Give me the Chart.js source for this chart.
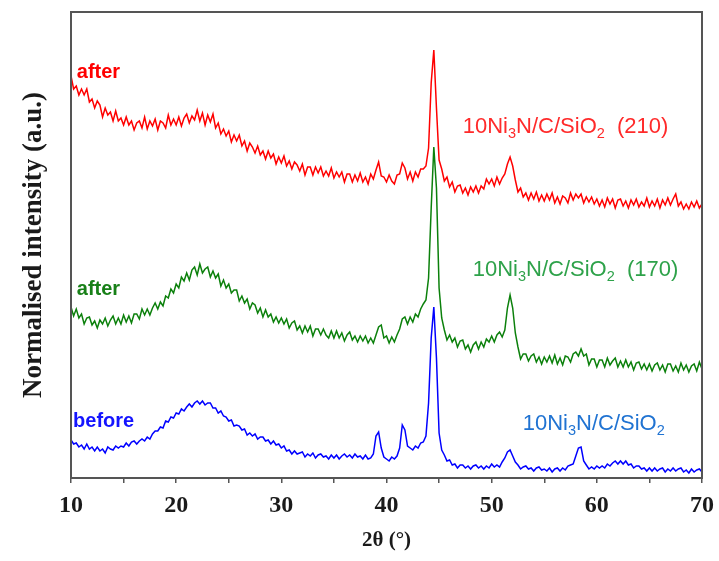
<!DOCTYPE html>
<html>
<head>
<meta charset="utf-8">
<script src="https://cdn.jsdelivr.net/npm/chart.js@4.4.1/dist/chart.umd.min.js"></script>
<style>
  body { margin: 0; background: #fff; }
  #xrd { display: block; }
</style>
</head>
<body>
<canvas id="xrd" width="719" height="561"></canvas>
<script>
// 2-theta scan: 10 to 70 degrees, one reading every 0.25 degree
const thetaStart = 10;
const thetaStep = 0.25;

// normalised intensity (a.u.), patterns stacked with their offsets
const after210 = [
    402, 389, 392, 383, 389, 383, 389, 376, 379, 370, 377, 373, 361, 370, 363, 366, 357, 367, 357, 360,
    353, 361, 353, 357, 348, 355, 357, 350, 361, 349, 357, 352, 359, 348, 357, 355, 350, 363, 353, 359,
    353, 361, 352, 360, 364, 355, 362, 358, 368, 357, 365, 353, 363, 356, 364, 350, 355, 344, 349, 342,
    347, 336, 343, 337, 343, 332, 337, 327, 335, 331, 325, 332, 323, 327, 319, 327, 320, 324, 314, 321,
    315, 322, 312, 317, 309, 316, 313, 307, 314, 303, 311, 311, 303, 311, 305, 311, 302, 307, 302, 310,
    300, 306, 301, 306, 296, 304, 304, 296, 303, 297, 305, 296, 301, 294, 304, 299, 308, 316, 302, 301,
    296, 303, 297, 294, 303, 304, 315, 310, 299, 306, 297, 306, 301, 309, 309, 312, 330, 395, 428, 370,
    318, 309, 297, 301, 291, 296, 286, 292, 293, 285, 290, 283, 291, 286, 292, 285, 292, 289, 299, 294,
    299, 292, 301, 294, 300, 304, 314, 321, 312, 298, 286, 290, 281, 285, 278, 285, 279, 286, 277, 283,
    277, 284, 278, 285, 275, 281, 274, 282, 280, 275, 285, 278, 284, 280, 284, 275, 281, 276, 281, 274,
    279, 272, 278, 271, 280, 274, 279, 270, 278, 279, 272, 277, 270, 278, 273, 279, 271, 276, 272, 280,
    271, 277, 272, 279, 270, 278, 273, 280, 273, 279, 284, 272, 276, 269, 274, 269, 276, 271, 277, 270, 274
];

const after170 = [
    171, 162, 169, 160, 164, 154, 160, 161, 153, 157, 150, 158, 154, 160, 152, 158, 162, 154, 160, 154,
    163, 156, 162, 155, 164, 164, 159, 169, 163, 169, 163, 170, 175, 169, 176, 172, 182, 180, 189, 185,
    194, 190, 201, 197, 205, 198, 208, 211, 203, 214, 205, 209, 211, 201, 207, 200, 204, 192, 198, 190,
    194, 185, 188, 188, 177, 182, 175, 179, 169, 175, 173, 165, 170, 161, 168, 161, 164, 156, 161, 155,
    160, 154, 159, 150, 155, 157, 148, 152, 145, 152, 146, 152, 142, 149, 149, 143, 149, 143, 140, 147,
    140, 147, 140, 145, 137, 143, 146, 138, 142, 136, 142, 137, 142, 135, 140, 135, 143, 151, 153, 140,
    142, 135, 141, 136, 143, 149, 159, 161, 154, 161, 156, 164, 161, 169, 174, 178, 200, 270, 331, 290,
    190, 160, 148, 138, 143, 136, 140, 131, 137, 138, 129, 133, 126, 133, 136, 129, 136, 131, 139, 136,
    142, 136, 143, 146, 141, 148, 170, 183, 170, 145, 131, 119, 124, 124, 117, 122, 124, 116, 121, 114,
    121, 116, 122, 115, 123, 114, 120, 113, 122, 121, 116, 124, 126, 122, 129, 122, 124, 113, 119, 119,
    111, 118, 118, 111, 120, 113, 117, 120, 111, 117, 111, 118, 111, 116, 108, 115, 116, 109, 114, 108,
    114, 107, 113, 115, 108, 113, 106, 114, 114, 107, 112, 106, 115, 108, 113, 106, 112, 114, 107, 116, 109
];

const before = [
    38, 34, 35, 31, 33, 29, 34, 29, 31, 27, 31, 27, 29, 25, 31, 29, 28, 32, 30, 32,
    31, 35, 32, 36, 37, 34, 37, 39, 37, 41, 39, 44, 47, 47, 51, 50, 57, 56, 61, 60,
    65, 64, 69, 67, 71, 74, 71, 75, 77, 74, 77, 73, 75, 75, 70, 70, 65, 67, 62, 61,
    57, 58, 52, 53, 52, 48, 49, 43, 45, 42, 44, 39, 41, 41, 37, 38, 34, 37, 33, 34,
    30, 32, 27, 28, 24, 27, 24, 25, 26, 21, 24, 22, 25, 20, 23, 24, 21, 22, 19, 23,
    20, 23, 19, 22, 24, 21, 23, 20, 24, 21, 22, 19, 23, 19, 20, 24, 42, 46, 30, 21,
    19, 17, 21, 19, 22, 30, 53, 48, 32, 30, 28, 32, 30, 35, 36, 42, 75, 140, 171, 120,
    45, 28, 23, 17, 18, 13, 14, 10, 13, 13, 10, 12, 9, 12, 13, 10, 12, 9, 12, 10,
    14, 11, 13, 11, 16, 20, 26, 28, 22, 16, 13, 9, 11, 12, 9, 10, 7, 10, 11, 8,
    9, 7, 10, 6, 9, 10, 7, 10, 8, 12, 13, 14, 22, 30, 31, 17, 13, 9, 11, 9,
    12, 10, 12, 10, 14, 12, 15, 17, 14, 17, 14, 17, 13, 14, 10, 12, 12, 9, 10, 7,
    10, 7, 10, 7, 9, 10, 6, 9, 7, 10, 7, 9, 10, 6, 8, 5, 9, 6, 8, 9, 6
];

const xTickLabels = ['10', '20', '30', '40', '50', '60', '70'];

// "_" marks a subscript piece
const name210 = ['10Ni', '_3', 'N/C/SiO', '_2', '  (210)'];
const name170 = ['10Ni', '_3', 'N/C/SiO', '_2', '  (170)'];
const nameFresh = ['10Ni', '_3', 'N/C/SiO', '_2'];

function toPoints(values) {
    return values.map((v, i) => ({ x: thetaStart + i * thetaStep, y: v }));
}

let serif = '"Liberation Serif", "Times New Roman", serif';
let sans = '"Liberation Sans", Arial, sans-serif';

// labels drawn next to each pattern, placed in data coordinates
let sampleLabels = [
    { parts: ['after'], at: [10.55, 406], color: '#ff0000', font: 'bold 20px ' + sans },
    { parts: ['after'], at: [10.55, 189], color: '#188018', font: 'bold 20px ' + sans },
    { parts: ['before'], at: [10.2, 57], color: '#1414ff', font: 'bold 20px ' + sans },
    { parts: name210, at: [47.25, 351], color: '#ff2a2a', size: 22 },
    { parts: name170, at: [48.2, 208], color: '#2ea24a', size: 22 },
    { parts: nameFresh, at: [52.95, 54], color: '#2073d2', size: 22 }
];

let labelsAndFrame = {
    id: 'labelsAndFrame',
    afterDatasetsDraw: function(chart) {
        let ctx = chart.ctx;
        let xScale = chart.scales.x;
        let yScale = chart.scales.y;
        ctx.save();
        ctx.textBaseline = 'middle';
        ctx.textAlign = 'left';
        sampleLabels.forEach(function(lab) {
            let px = xScale.getPixelForValue(lab.at[0]);
            let py = yScale.getPixelForValue(lab.at[1]);
            ctx.fillStyle = lab.color;
            lab.parts.forEach(function(part) {
                let isSub = part.charAt(0) === '_';
                let text = isSub ? part.slice(1) : part;
                if (lab.font) {
                    ctx.font = lab.font;
                } else {
                    let size = isSub ? lab.size * 0.66 : lab.size;
                    ctx.font = size + 'px ' + sans;
                }
                ctx.fillText(text, px, isSub ? py + lab.size * 0.3 : py);
                px += ctx.measureText(text).width;
            });
        });
        ctx.restore();
    },
    afterDraw: function(chart) {
        let a = chart.chartArea;
        let ctx = chart.ctx;
        ctx.save();
        ctx.strokeStyle = '#555555';
        ctx.lineWidth = 2;
        ctx.strokeRect(a.left, a.top, a.right - a.left, a.bottom - a.top);
        ctx.restore();
    }
};

let data = {
    datasets: [
        { label: 'after (210)', data: toPoints(after210), borderColor: '#ff0000' },
        { label: 'after (170)', data: toPoints(after170), borderColor: '#0b800b' },
        { label: 'before', data: toPoints(before), borderColor: '#0000ff' }
    ]
};

let config = {
    type: 'line',
    data: data,
    options: {
        responsive: false,
        animation: false,
        devicePixelRatio: 1,
        layout: { padding: { top: 12, right: 17, left: 0, bottom: 0 } },
        elements: {
            line: { borderWidth: 1.5, tension: 0 },
            point: { radius: 0 }
        },
        plugins: {
            legend: { display: false },
            tooltip: { enabled: false }
        },
        scales: {
            x: {
                type: 'linear',
                min: 10,
                max: 70,
                afterFit: function(axis) {
                    axis.height = 83;
                    axis.paddingLeft = 0;
                    axis.paddingRight = 0;
                },
                ticks: {
                    stepSize: 5,
                    padding: 8,
                    color: '#1a1a1a',
                    font: { family: serif, size: 24, weight: 'bold' },
                    callback: function(value) {
                        let label = String(value);
                        return xTickLabels.indexOf(label) >= 0 ? label : '';
                    }
                },
                grid: {
                    drawOnChartArea: false,
                    drawTicks: true,
                    tickLength: 5,
                    color: '#555555',
                    lineWidth: 1.5
                },
                border: { display: false },
                title: {
                    display: true,
                    text: '2θ (°)',
                    color: '#1a1a1a',
                    font: { family: serif, size: 21, weight: 'bold' },
                    padding: { top: 0, bottom: 8 }
                }
            },
            y: {
                min: 0,
                max: 466,
                afterFit: function(axis) { axis.width = 71; },
                ticks: { display: false },
                grid: { display: false },
                border: { display: false },
                title: {
                    display: true,
                    text: 'Normalised intensity (a.u.)',
                    color: '#1a1a1a',
                    font: { family: serif, size: 27, weight: 'bold' },
                    padding: { top: 18, bottom: 0 }
                }
            }
        }
    },
    plugins: [labelsAndFrame]
};

let xrdChart = new Chart(document.getElementById('xrd'), config);
</script>
</body>
</html>
